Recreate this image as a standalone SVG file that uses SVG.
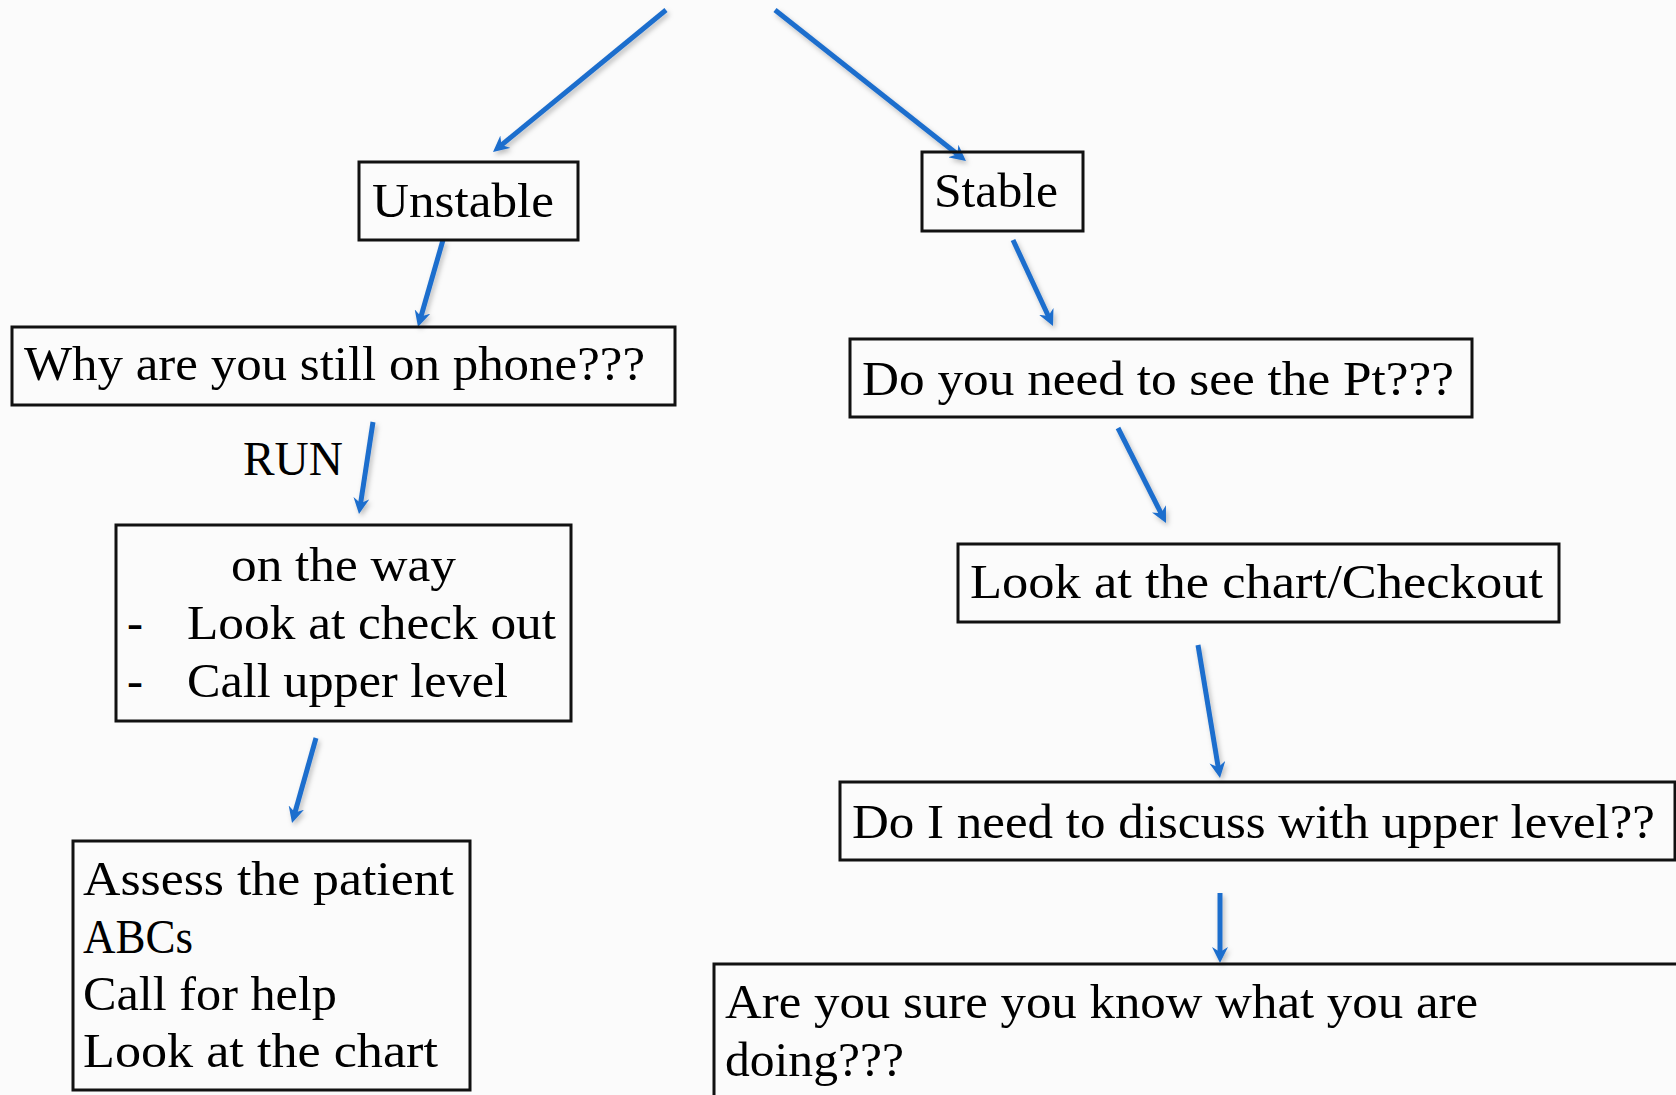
<svg xmlns="http://www.w3.org/2000/svg" width="1676" height="1095" viewBox="0 0 1676 1095">
<defs>
<style>
.box{fill:none;stroke:#111;stroke-width:3}
.t{font-family:"Liberation Serif","DejaVu Serif",serif;font-size:48px;fill:#000}
.arr{stroke:#1e6ecd;stroke-width:5;fill:none;marker-end:url(#ah)}
</style>
<marker id="ah" viewBox="0 0 16 16" refX="8" refY="8" markerWidth="16" markerHeight="16" markerUnits="userSpaceOnUse" orient="auto">
<path d="M0,0 L16,8 L0,16 L5,8 Z" fill="#1e6ecd"/>
</marker>
<filter id="sh" x="-20%" y="-20%" width="140%" height="140%">
<feDropShadow dx="2" dy="3" stdDeviation="2.5" flood-color="#000" flood-opacity="0.25"/>
</filter>
</defs>
<rect x="0" y="0" width="1676" height="1095" fill="#fbfbfb"/>
<g id="connectors" filter="url(#sh)">
<line class="arr" x1="666" y1="10" x2="499.2" y2="146.9"/>
<line class="arr" x1="775" y1="10" x2="959.7" y2="156"/>
<line class="arr" x1="443" y1="240" x2="420.2" y2="319.3"/>
<line class="arr" x1="373" y1="422" x2="360.2" y2="506.1"/>
<line class="arr" x1="316" y1="738" x2="294.2" y2="815.3"/>
<line class="arr" x1="1013" y1="240" x2="1049.6" y2="318.7"/>
<line class="arr" x1="1118" y1="428" x2="1162.4" y2="515.9"/>
<line class="arr" x1="1198" y1="645" x2="1218.7" y2="770.1"/>
<line class="arr" x1="1220" y1="893" x2="1220" y2="955"/>
</g>
<g id="unstable">
<rect class="box" x="359" y="162" width="219" height="78"/>
<text class="t" x="372" y="217" textLength="182" lengthAdjust="spacingAndGlyphs">Unstable</text>
</g>
<g id="stable">
<rect class="box" x="922" y="152" width="161" height="79"/>
<text class="t" x="934" y="207" textLength="124" lengthAdjust="spacingAndGlyphs">Stable</text>
</g>
<g id="why-phone">
<rect class="box" x="12" y="327" width="663" height="78"/>
<text class="t" x="24" y="380" textLength="621" lengthAdjust="spacingAndGlyphs">Why are you still on phone???</text>
</g>
<g id="run-label">
<text class="t" x="243" y="475" textLength="100" lengthAdjust="spacingAndGlyphs">RUN</text>
</g>
<g id="on-the-way">
<rect class="box" x="116" y="525" width="455" height="196"/>
<text class="t" x="231" y="581" textLength="225" lengthAdjust="spacingAndGlyphs">on the way</text>
<text class="t" x="127" y="639">-</text>
<text class="t" x="187" y="639" textLength="369" lengthAdjust="spacingAndGlyphs">Look at check out</text>
<text class="t" x="127" y="697">-</text>
<text class="t" x="187" y="697" textLength="321" lengthAdjust="spacingAndGlyphs">Call upper level</text>
</g>
<g id="assess">
<rect class="box" x="73" y="841" width="397" height="249"/>
<text class="t" x="83" y="895" textLength="371" lengthAdjust="spacingAndGlyphs">Assess the patient</text>
<text class="t" x="83" y="953" textLength="110" lengthAdjust="spacingAndGlyphs">ABCs</text>
<text class="t" x="83" y="1010" textLength="254" lengthAdjust="spacingAndGlyphs">Call for help</text>
<text class="t" x="83" y="1067" textLength="355" lengthAdjust="spacingAndGlyphs">Look at the chart</text>
</g>
<g id="see-pt">
<rect class="box" x="850" y="339" width="622" height="78"/>
<text class="t" x="862" y="395" textLength="592" lengthAdjust="spacingAndGlyphs">Do you need to see the Pt???</text>
</g>
<g id="chart-checkout">
<rect class="box" x="958" y="544" width="601" height="78"/>
<text class="t" x="970" y="598" textLength="573" lengthAdjust="spacingAndGlyphs">Look at the chart/Checkout</text>
</g>
<g id="discuss">
<rect class="box" x="840" y="782" width="835" height="78"/>
<text class="t" x="852" y="838" textLength="803" lengthAdjust="spacingAndGlyphs">Do I need to discuss with upper level??</text>
</g>
<g id="are-you-sure">
<rect class="box" x="714" y="964" width="1000" height="200"/>
<text class="t" x="725" y="1018" textLength="753" lengthAdjust="spacingAndGlyphs">Are you sure you know what you are</text>
<text class="t" x="725" y="1076" textLength="179" lengthAdjust="spacingAndGlyphs">doing???</text>
</g>
</svg>
